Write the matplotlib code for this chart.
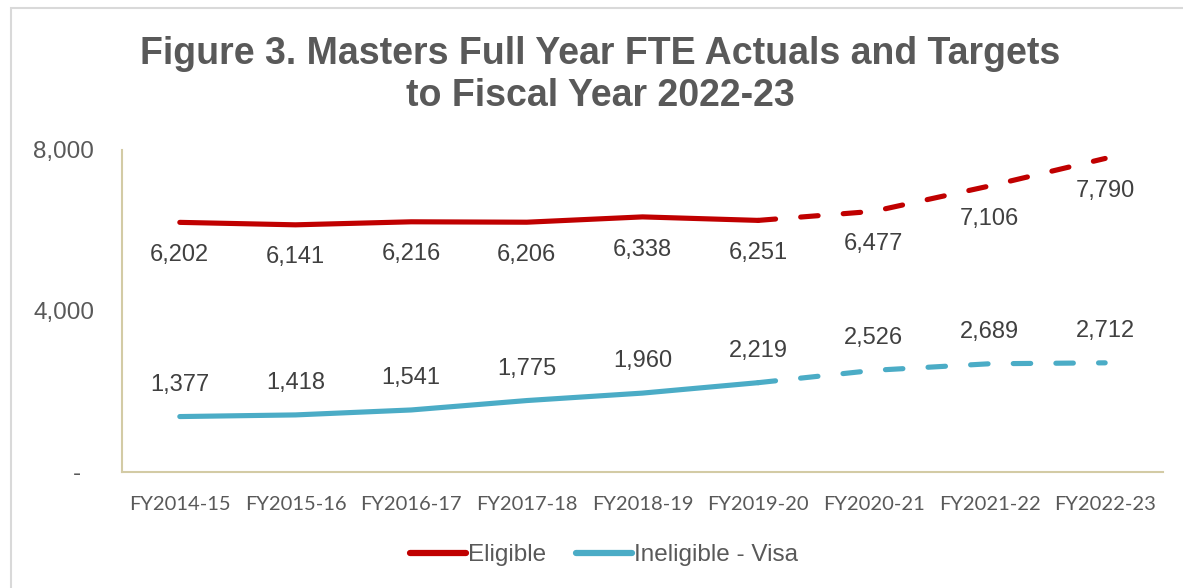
import numpy as np
import matplotlib.pyplot as plt
from matplotlib.patches import Rectangle

# Masters full year FTE, actuals to FY2019-20 then targets

years = ['FY2014-15', 'FY2015-16', 'FY2016-17', 'FY2017-18', 'FY2018-19',
         'FY2019-20', 'FY2020-21', 'FY2021-22', 'FY2022-23']
eligible = [6202, 6141, 6216, 6206, 6338, 6251, 6477, 7106, 7790]
ineligible = [1377, 1418, 1541, 1775, 1960, 2219, 2526, 2689, 2712]
last_actual = 5  # index of FY2019-20

red = '#C00000'
blue = '#4BACC6'
axis_col = '#D3CBA5'
txt = '#595959'
lbl = '#404040'

plt.rcParams['font.family'] = ['Liberation Sans', 'DejaVu Sans']

fig = plt.figure(figsize=(11.83, 5.88), dpi=100)
ax = fig.add_axes([0.1031, 0.1973, 0.8800, 0.5476])

x = np.arange(len(years))
dash = (3.4, 4.9)
for vals, col in [(eligible, red), (ineligible, blue)]:
    ax.plot(x[:last_actual + 1], vals[:last_actual + 1], color=col, lw=3.7,
            solid_capstyle='round', solid_joinstyle='round')
    ax.plot(x[last_actual:], vals[last_actual:], color=col, lw=3.7,
            dashes=dash, dash_capstyle='round')

for i in range(len(years)):
    ax.annotate(f'{eligible[i]:,}', (x[i], eligible[i]), xytext=(0, -23.5),
                textcoords='offset points', ha='center', va='center',
                fontsize=17, color=lbl)
    ax.annotate(f'{ineligible[i]:,}', (x[i], ineligible[i]), xytext=(0, 23),
                textcoords='offset points', ha='center', va='center',
                fontsize=17, color=lbl)

ax.set_xlim(-0.5, len(years) - 0.5)
ax.set_ylim(0, 8000)
ax.set_yticks([0, 4000, 8000])
ax.set_yticklabels(['-  ', '4,000', '8,000'])
ax.set_xticks(x)
ax.set_xticklabels(years, family=['Lato', 'DejaVu Sans'])
ax.tick_params(axis='y', length=0, pad=20, labelsize=17.5, labelcolor=txt)
ax.tick_params(axis='x', length=0, pad=17, labelsize=14.5, labelcolor=txt)

for s in ['top', 'right']:
    ax.spines[s].set_visible(False)
for s in ['left', 'bottom']:
    ax.spines[s].set_color(axis_col)
    ax.spines[s].set_linewidth(1.5)

fig.text(600 / 1183, 1 - 75 / 588,
         'Figure 3. Masters Full Year FTE Actuals and Targets\nto Fiscal Year 2022-23',
         ha='center', va='center', fontsize=27, fontweight='bold',
         color=txt, linespacing=1.22)

handles = [plt.Line2D([], [], color=red, lw=4.5, solid_capstyle='round'),
           plt.Line2D([], [], color=blue, lw=4.5, solid_capstyle='round')]
fig.legend(handles, ['Eligible', 'Ineligible - Visa'], loc='center',
           bbox_to_anchor=(604 / 1183, 1 - 555 / 588), ncol=2, frameon=False,
           fontsize=17.5, labelcolor=txt, handlelength=2.3, handletextpad=0.1,
           columnspacing=1.2)

fig.patches.append(Rectangle((11 / 1183, -0.05), 1.2, 1 - 8 / 588 + 0.05,
                             transform=fig.transFigure, fill=False,
                             edgecolor='#D9D9D9', lw=1.5))

fig.savefig('out.png', dpi=100)
